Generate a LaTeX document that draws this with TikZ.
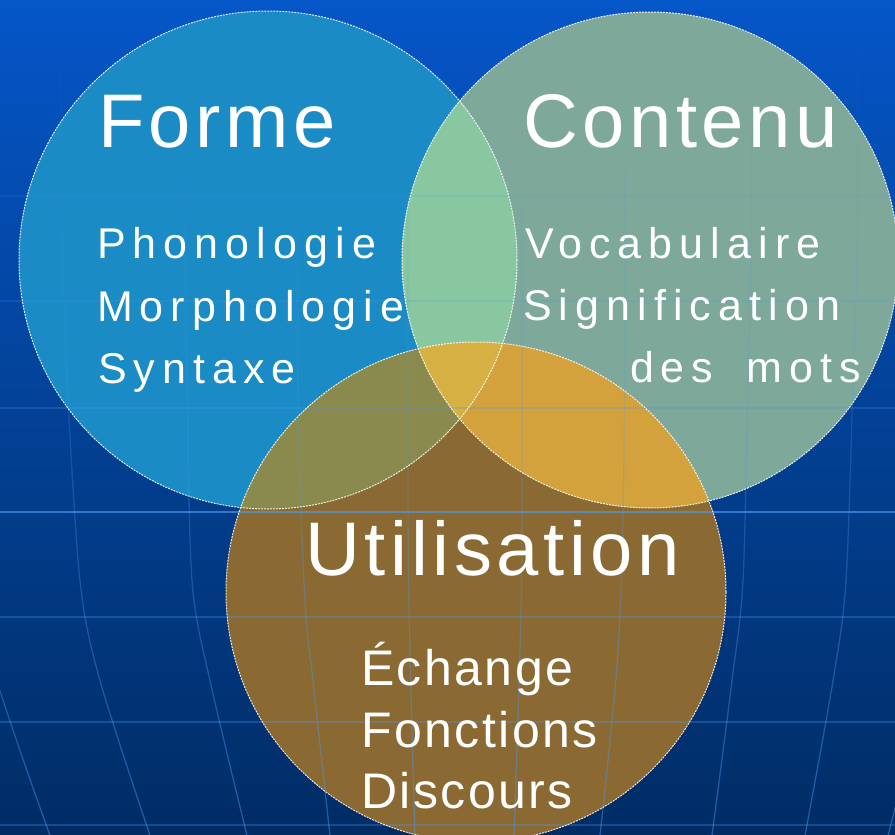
\documentclass[tikz,border=0pt]{standalone}
\usepackage{fontspec}
\usetikzlibrary{fadings}
\setmainfont{Liberation Sans}
\newfontfamily\titlefont[LetterSpace=6]{Liberation Sans}
\newfontfamily\itemfont[LetterSpace=16.5]{Liberation Sans}
\newfontfamily\itemfontu[LetterSpace=5]{Liberation Sans}
\definecolor{bgtop}{HTML}{0556C8}
\definecolor{bgmid}{HTML}{0848A0}
\definecolor{bgbot}{HTML}{002C64}
\definecolor{gridblue}{HTML}{4A9AF0}
\definecolor{formec}{HTML}{1A8BC4}
\definecolor{contenuc}{HTML}{7EA899}
\definecolor{utilc}{HTML}{8A6A32}
\definecolor{fcc}{HTML}{88C7A0}
\definecolor{fuc}{HTML}{8A8A4E}
\definecolor{cuc}{HTML}{D3A23C}
\definecolor{fcuc}{HTML}{D6B042}
\tikzfading[name=meridfade, top color=transparent!100, middle color=transparent!25, bottom color=transparent!0]
\begin{document}
\begin{tikzpicture}[x=1pt,y=-1pt,
  ttl/.style={anchor=base west, inner sep=0pt, outer sep=0pt, text=white,
    font=\titlefont\fontsize{76}{76}\selectfont},
  itm/.style={anchor=base west, inner sep=0pt, outer sep=0pt, text=white,
    font=\itemfont\fontsize{43}{43}\selectfont},
  itmu/.style={anchor=base west, inner sep=0pt, outer sep=0pt, text=white,
    font=\itemfontu\fontsize{50}{50}\selectfont},
  gridline/.style={draw=gridblue, line width=1.2pt, opacity=0.3},
  merid/.style={draw=gridblue, line width=1.3pt, opacity=0.45, path fading=meridfade},
  mainline/.style={draw=gridblue, line width=1.6pt, opacity=0.65},
  ring/.style={draw=white, line width=1pt, dash pattern=on 2pt off 1pt, opacity=0.85}]
\useasboundingbox (0,0) rectangle (895,835);
\begin{scope}
\clip (0,0) rectangle (895,835);
\shade[top color=bgtop, middle color=bgmid, bottom color=bgbot] (0,0) rectangle (895,835);
% circles
\coordinate (cF) at (268,260);
\coordinate (cC) at (650,260);
\coordinate (cU) at (476,592);
\fill[formec] (cF) circle[radius=249];
\fill[contenuc] (cC) circle[radius=248];
\fill[utilc] (cU) circle[radius=250];
\begin{scope}
  \clip (cF) circle[radius=249];
  \fill[fcc] (cC) circle[radius=248];
  \fill[fuc] (cU) circle[radius=250];
\end{scope}
\begin{scope}
  \clip (cC) circle[radius=248];
  \fill[cuc] (cU) circle[radius=250];
\end{scope}
\begin{scope}
  \clip (cF) circle[radius=249];
  \clip (cC) circle[radius=248];
  \fill[fcuc] (cU) circle[radius=250];
\end{scope}
% globe grid
\draw[gridline, opacity=0.12] (0,196) -- (895,196);
\draw[gridline, opacity=0.18] (0,301) -- (895,301);
\draw[gridline, opacity=0.25] (0,408) -- (895,408);
\foreach \yy in {617,722,825}
  \draw[gridline] (0,\yy) -- (895,\yy);
\draw[mainline] (0,512) -- (895,512);
\draw[merid] plot[smooth] coordinates {(-48,0) (-45,300) (-35,500) (-12,650) (50,835)};
\draw[merid] plot[smooth] coordinates {(60,0) (63,250) (67,380) (80,580) (100,680) (150,835)};
\draw[merid] plot[smooth] coordinates {(183,0) (185,250) (187,380) (192,580) (210,680) (247,835)};
\draw[merid] plot[smooth] coordinates {(298,0) (298,400) (305,600) (313,680) (330,835)};
\draw[merid] plot[smooth] coordinates {(408,0) (408,500) (410,650) (415,835)};
\draw[merid] plot[smooth] coordinates {(522,0) (522,500) (520,650) (514,835)};
\draw[merid] plot[smooth] coordinates {(625,0) (624,450) (618,650) (600,835)};
\draw[merid] plot[smooth] coordinates {(752,0) (751,250) (748,380) (743,580) (732,680) (712,835)};
\draw[merid] plot[smooth] coordinates {(858,0) (857,250) (853,380) (846,580) (833,680) (805,835)};
\draw[merid] plot[smooth] coordinates {(962,0) (960,380) (942,600) (917,720) (888,835)};
% outlines
\draw[ring] (cF) circle[radius=249];
\draw[ring] (cC) circle[radius=248];
\draw[ring] (cU) circle[radius=250];
\end{scope}
% texts
\node[ttl] (tF) at (98,147) {Forme};
\node[itm] (f1) at (97,258) {Phonologie};
\node[itm] (f2) at (97,321) {Morphologie};
\node[itm] (f3) at (98,383) {Syntaxe};
\node[ttl] (tC) at (523,147) {Contenu};
\node[itm] (c1) at (525,258) {Vocabulaire};
\node[itm] (c2) at (523,320) {Signification};
\node[itm] (c3) at (630,382) {des\hspace{14pt} mots};
\node[ttl] (tU) at (305,575) {Utilisation};
\node[itmu] (u1) at (361,685) {Échange};
\node[itmu] (u2) at (361,747) {Fonctions};
\node[itmu] (u3) at (361,808) {Discours};
\end{tikzpicture}
\end{document}
